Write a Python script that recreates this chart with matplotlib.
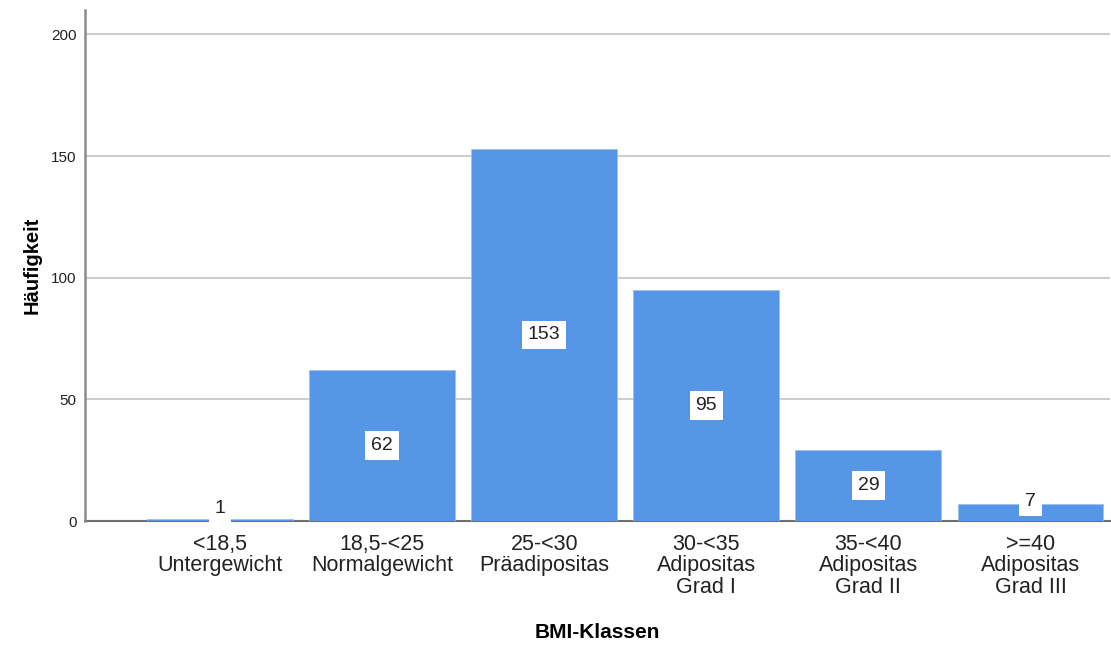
import matplotlib
matplotlib.use("Agg")
import matplotlib.pyplot as plt

plt.rcParams['font.family'] = ['Liberation Sans', 'DejaVu Sans']

klassen = ['<18,5\nUntergewicht', '18,5-<25\nNormalgewicht', '25-<30\nPräadipositas',
           '30-<35\nAdipositas\nGrad I', '35-<40\nAdipositas\nGrad II', '>=40\nAdipositas\nGrad III']
haeufigkeit = [1, 62, 153, 95, 29, 7]
y_ticks = [0, 50, 100, 150, 200]

fig = plt.figure(figsize=(11.11, 6.45), dpi=100)
ax = fig.add_axes([0.0765, 0.1922, 0.9225, 0.7923])

x = range(len(klassen))
ax.bar(x, haeufigkeit, width=0.9, color='#5596e6', edgecolor='#9cc0f0', linewidth=0.6, zorder=3)

# Beschriftung in der Mitte der Balken, kleine Balken etwas höher
for i, v in enumerate(haeufigkeit):
    y = v / 2 if v > 20 else v / 2 + 4.5
    ax.text(i, y, str(v), ha='center', va='center', fontsize=14, color='#222222', zorder=5,
            bbox=dict(boxstyle='square,pad=0.3', facecolor='white', edgecolor='none'))

ax.set_xlim(-0.833, 5.49)
ax.set_ylim(0, 210)
ax.set_yticks(y_ticks)
ax.set_xticks(list(x))
ax.set_xticklabels(klassen, fontsize=15.5, color='#222222', linespacing=1.05)
ax.tick_params(axis='y', labelsize=11, length=0, pad=6, colors='#222222')
ax.tick_params(axis='x', length=0, pad=9)

ax.grid(axis='y', color='#c4c4c4', linewidth=1.2, zorder=0)
for s in ['top', 'right']:
    ax.spines[s].set_visible(False)
ax.spines['left'].set_color('#8c8c8c')
ax.spines['left'].set_linewidth(1.8)
ax.spines['bottom'].set_color('#6e6e6e')
ax.spines['bottom'].set_linewidth(1.5)
ax.spines['bottom'].set_zorder(2)

ax.set_ylabel('Häufigkeit', fontsize=14.5, fontweight='bold', labelpad=7)
ax.set_xlabel('BMI-Klassen', fontsize=15, fontweight='bold', labelpad=18)

fig.savefig('out.png', dpi=100)
